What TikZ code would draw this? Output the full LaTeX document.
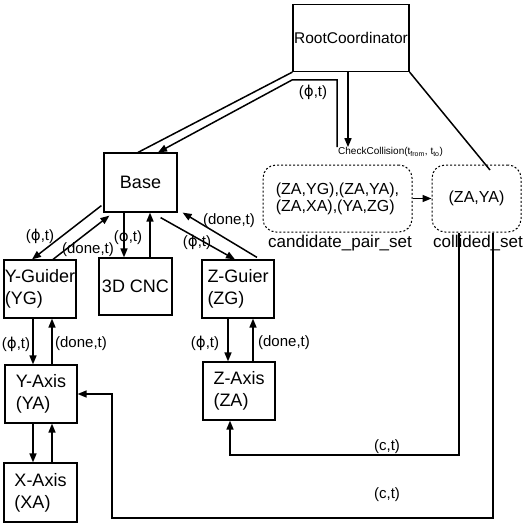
\documentclass[tikz,border=0pt]{standalone}
\usepackage{fontspec}
\setmainfont{Liberation Sans}
\newfontfamily\dejavu{DejaVu Sans}
\usetikzlibrary{arrows.meta,calc}
\newcommand{\myphi}{{\dejavu ϕ}}
\begin{document}
\begin{tikzpicture}[x=1pt,y=-1pt,
  box/.style={draw, line width=1.2pt, rectangle, inner sep=0pt, align=left,
    font=\fontsize{18}{22}\selectfont},
  setbox/.style={draw, dash pattern=on 2pt off 2pt, rounded corners=13pt, line width=1pt,
    inner sep=0pt, align=left, font=\fontsize{16}{17}\selectfont},
  lab/.style={inner sep=0pt, font=\fontsize{15}{17}\selectfont},
  setlab/.style={inner sep=0pt, font=\fontsize{17}{19}\selectfont},
  ln/.style={line width=1.5pt},
  arr/.style={line width=1.5pt, -{Triangle[length=9pt,width=7pt]}}]
\useasboundingbox (0,0) rectangle (523,524);

% boxes
\node[box, minimum width=116pt, minimum height=67pt, font=\fontsize{15.5}{18}\selectfont] (root) at (351,38) {RootCoordinator};
\node[box, minimum width=73pt, minimum height=59pt] (base) at (140.5,182.5) {Base};
\node[box, minimum width=72pt, minimum height=58pt] (yg) at (40,289) {Y-Guider\\(YG)};
\node[box, minimum width=73pt, minimum height=57pt] (cnc) at (135.5,286.5) {3D CNC};
\node[box, minimum width=72pt, minimum height=58pt] (zg) at (238,289) {Z-Guier\\(ZG)};
\node[box, minimum width=72pt, minimum height=58pt] (ya) at (41,394) {Y-Axis\\(YA)};
\node[box, minimum width=72pt, minimum height=58pt] (za) at (239,391) {Z-Axis\\(ZA)};
\node[box, minimum width=73pt, minimum height=59pt] (xa) at (40.5,492.5) {X-Axis\\(XA)};

% sets
\node[setbox, minimum width=149pt, minimum height=67pt] (cand) at (337.5,198.5) {(ZA,YG),(ZA,YA),\\(ZA,XA),(YA,ZG)};
\node[setbox, minimum width=89pt, minimum height=67pt] (coll) at (476.5,198.5) {(ZA,YA)};
\node[setlab] (candl) at (340,243) {candidate\_pair\_set};
\node[setlab] (colll) at (478,243) {collided\_set};
\node[inner sep=0pt, anchor=west, font=\fontsize{10}{12}\selectfont] (chk) at (338,152) {CheckCollision(t\textsubscript{from}, t\textsubscript{to})};

% labels
\node[lab] (l1) at (313,92) {(\myphi,t)};
\node[lab] (l2) at (40,236) {(\myphi,t)};
\node[lab] (l3) at (88,250) {(done,t)};
\node[lab] (l4) at (128,237) {(\myphi,t)};
\node[lab] (l5) at (197,242) {(\myphi,t)};
\node[lab] (l6) at (229,221) {(done,t)};
\node[lab] (l7) at (16,344) {(\myphi,t)};
\node[lab] (l8) at (81,344) {(done,t)};
\node[lab] (l9) at (205,343) {(\myphi,t)};
\node[lab] (l10) at (284,343) {(done,t)};
\node[lab] (ct1) at (387,447) {(c,t)};
\node[lab] (ct2) at (387,495) {(c,t)};

% helper coordinates
\coordinate (k2) at (292,80);
\coordinate (rc) at (490,170);
\coordinate (c1) at (459,455);
\coordinate (c2) at (493,518);
\coordinate (c3) at (112,518);

% root connections
\draw[ln] (root.south west) -- ([xshift=-2.5pt]base.north);
\draw[arr] ([xshift=-1pt]chk.north west) |- (k2) -- ([xshift=17.5pt]base.north);
\draw[arr] ([xshift=-3pt]root.south) -- ([xshift=-3pt]root.south |- chk.north);
\draw[ln] (root.south east) -- (rc);
\draw[arr] (cand.east) -- (coll.west);

% feedback
\draw[arr] ([xshift=-17.5pt]coll.south) -- (c1) -| ([xshift=-9pt]za.south);
\draw[arr] ([xshift=16.5pt]coll.south) -- (c2) -- (c3) |- (ya.east);

% base to children
\draw[arr] ([shift={(-2pt,7pt)}]base.south west) -- ([xshift=-8pt]yg.north);
\draw[arr] ([xshift=13pt]yg.north) -- ([shift={(6pt,-3pt)}]base.south west);
\draw[arr] ([xshift=-16.5pt]base.south) -- ([xshift=-16.5pt]base.south |- cnc.north);
\draw[arr] ([xshift=9.5pt]base.south |- cnc.north) -- ([xshift=9.5pt]base.south);
\draw[arr] ([shift={(-17pt,-5pt)}]base.south east) -- ([xshift=-3pt]zg.north);
\draw[arr] ([shift={(19pt,2pt)}]zg.north) -- ([xshift=5pt]base.south east);

% guider to axis
\draw[arr] ([xshift=-7pt]yg.south) -- ([xshift=-7pt]yg.south |- ya.north);
\draw[arr] ([xshift=12pt]yg.south |- ya.north) -- ([xshift=12pt]yg.south);
\draw[arr] ([xshift=-8pt]ya.south) -- ([xshift=-8pt]ya.south |- xa.north);
\draw[arr] ([xshift=11pt]ya.south |- xa.north) -- ([xshift=11pt]ya.south);
\draw[arr] ([xshift=-10pt]zg.south) -- ([xshift=-10pt]zg.south |- za.north);
\draw[arr] ([xshift=15pt]zg.south |- za.north) -- ([xshift=15pt]zg.south);
\end{tikzpicture}
\end{document}
